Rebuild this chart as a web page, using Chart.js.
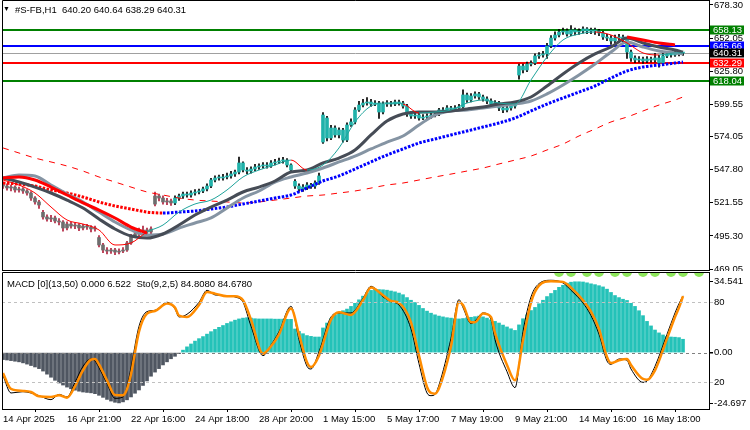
<!DOCTYPE html>
<html>
<head>
<meta charset="utf-8">
<title>#S-FB,H1</title>
<script src="https://cdn.jsdelivr.net/npm/chart.js@4.4.1/dist/chart.umd.min.js"></script>
<style>
  html, body { margin: 0; padding: 0; background: #fff; }
  #wrap { position: relative; width: 750px; height: 430px; overflow: hidden;
          font-family: "Liberation Sans", Arial, sans-serif; }
  #priceBox { position: absolute; left: 0; top: 0; width: 750px; height: 271px; }
  #oscBox { position: absolute; left: 0; top: 272px; width: 750px; height: 158px; }
  .caption { position: absolute; font-size: 9.5px; line-height: 12px; color: #000; white-space: pre; }
</style>
</head>
<body>
<div id="wrap">
  <div id="priceBox"><canvas id="priceChart"></canvas></div>
  <div id="oscBox"><canvas id="oscChart"></canvas></div>
  <div class="caption" style="left:3px;top:3px;font-size:7px;">▼</div>
  <div class="caption" style="left:15px;top:4px;">#S-FB,H1  640.20 640.64 638.29 640.31</div>
  <div class="caption" style="left:7px;top:278px;">MACD [0](13,50) 0.000 6.522  Sto(9,2,5) 84.8080 84.6780</div>
</div>
<script>
// H1 bars, one per hour of trading, index 0 = first bar on screen
const opens = [
  536.0,534.8,533.3,534.0,531.7,532.5,530.9,529.3,525.3,522.2,
  514.0,510.3,508.7,509.5,507.1,506.3,501.6,504.7,503.1,503.9,
  501.6,503.1,502.3,500.8,494.0,488.1,484.1,483.3,484.1,482.5,
  483.3,484.1,489.7,495.2,496.8,499.2,500.0,498.4,520.5,526.9,
  525.3,522.2,523.0,521.4,525.3,526.9,528.5,527.7,529.3,530.1,
  530.9,532.5,534.8,539.6,541.2,541.2,542.0,542.8,544.4,545.9,
  553.1,547.5,546.7,548.3,549.9,550.7,551.5,550.7,553.1,553.9,
  554.7,555.4,551.5,538.5,534.8,532.5,534.0,535.6,534.8,537.2,
  569.7,588.7,572.9,580.8,575.3,579.2,571.3,583.2,585.6,595.1,
  599.0,600.6,601.4,599.8,600.6,593.5,599.8,600.6,599.8,601.4,
  600.6,598.2,591.9,590.3,591.1,588.7,589.5,590.3,591.1,591.9,
  595.1,594.3,596.7,595.9,596.7,597.5,607.0,603.0,606.2,607.8,
  605.4,603.8,602.2,599.8,600.6,596.7,595.1,596.7,599.0,622.8,
  629.9,626.8,631.5,632.3,637.9,638.7,639.5,645.8,652.1,654.5,
  656.9,657.7,655.3,658.5,656.9,657.7,659.3,657.7,658.5,657.7,
  656.1,652.9,652.1,649.8,652.1,652.9,651.3,641.0,636.3,634.7,
  635.5,633.9,635.5,634.7,636.3,632.3,637.9,639.5,638.7,640.3,
  640.20
];
const highs = [
  538.0,536.5,535.5,535.0,534.0,533.5,532.0,530.5,526.5,523.5,
  515.5,512.0,511.5,511.0,509.0,507.5,506.5,506.0,505.5,505.0,
  504.5,504.5,503.5,503.0,495.5,489.5,486.0,485.5,485.5,485.0,
  486.0,491.0,496.5,499.0,501.5,503.0,501.5,502.5,530.0,528.5,
  527.0,525.0,524.5,527.0,528.5,530.0,530.0,531.0,532.0,532.5,
  534.0,536.5,541.0,543.0,543.5,544.0,545.0,546.5,547.5,557.8,
  554.0,549.5,550.0,552.0,552.5,553.5,553.5,555.0,556.0,557.0,
  557.5,556.5,552.5,540.0,536.5,536.0,537.5,537.0,539.0,545.0,
  593.0,590.0,583.0,582.5,581.0,580.5,585.0,588.0,597.0,602.0,
  603.5,605.0,603.5,602.5,602.0,601.5,602.5,602.0,603.0,603.0,
  602.0,599.5,593.5,593.0,592.5,591.5,592.0,593.0,594.0,596.5,
  597.0,598.5,598.0,598.5,599.5,611.0,608.5,608.0,609.5,609.0,
  607.0,605.5,604.0,602.5,602.0,598.0,598.5,601.0,601.0,631.5,
  631.5,633.0,634.0,639.5,640.5,641.5,648.0,654.0,657.0,659.0,
  660.0,659.5,662.0,660.0,659.5,661.0,660.5,660.0,660.0,659.0,
  657.5,655.0,654.0,654.5,655.0,654.5,652.0,642.5,638.0,637.5,
  637.0,637.5,637.0,640.0,638.5,640.0,641.5,641.0,642.0,641.5,
  640.64
];
const lows = [
  533.0,531.5,531.0,530.0,530.0,529.0,527.5,523.5,520.5,517.0,
  508.5,507.0,506.5,505.5,504.0,499.0,500.0,501.5,501.0,499.5,
  500.0,500.5,498.5,499.0,486.5,482.0,481.0,481.5,480.5,481.0,
  482.0,483.0,488.5,494.0,495.5,497.5,496.5,497.0,519.0,523.0,
  520.5,520.0,519.5,520.0,523.5,525.0,526.0,526.0,527.5,528.5,
  529.5,531.0,533.5,538.0,539.5,539.5,540.5,541.0,542.5,544.5,
  546.0,544.5,545.0,547.0,548.0,549.0,549.0,549.5,551.5,552.5,
  553.0,550.0,546.0,533.0,530.5,530.5,532.0,533.0,533.0,536.0,
  568.5,570.5,571.5,573.5,573.0,569.5,570.0,582.0,584.0,594.0,
  597.5,599.0,598.0,598.5,588.5,592.0,598.0,598.0,598.5,599.0,
  596.5,590.0,588.5,588.5,587.0,587.5,588.0,588.5,589.5,590.5,
  592.5,593.0,594.5,594.0,595.0,596.5,601.0,601.5,604.5,603.5,
  602.0,600.0,598.0,598.0,594.5,593.0,593.5,595.0,596.5,619.5,
  624.5,625.5,630.0,631.0,636.0,637.0,636.0,644.5,650.5,653.0,
  655.0,653.5,654.0,654.5,655.0,656.0,655.5,655.5,655.0,654.0,
  651.0,650.0,647.0,648.0,650.5,649.0,636.0,633.5,632.5,633.0,
  632.0,632.5,633.0,633.0,629.0,631.0,636.5,637.0,637.5,638.0,
  638.29
];
const closes = [
  534.8,533.3,534.0,531.7,532.5,530.9,529.3,525.3,522.2,519.8,
  510.3,508.7,509.5,507.1,506.3,501.6,504.7,503.1,503.9,501.6,
  503.1,502.3,500.8,501.6,488.1,484.1,483.3,484.1,482.5,483.3,
  484.1,489.7,495.2,496.8,499.2,500.0,498.4,500.8,526.9,525.3,
  522.2,523.0,521.4,525.3,526.9,528.5,527.7,529.3,530.1,530.9,
  532.5,534.8,539.6,541.2,541.2,542.0,542.8,544.4,545.9,553.1,
  547.5,546.7,548.3,549.9,550.7,551.5,550.7,553.1,553.9,554.7,
  555.4,551.5,547.5,534.8,532.5,534.0,535.6,534.8,537.2,542.8,
  591.1,572.9,580.8,575.3,579.2,571.3,583.2,585.6,595.1,599.0,
  600.6,601.4,599.8,600.6,593.5,599.8,600.6,599.8,601.4,600.6,
  598.2,591.9,590.3,591.1,588.7,589.5,590.3,591.1,591.9,595.1,
  594.3,596.7,595.9,596.7,597.5,607.0,603.0,606.2,607.8,605.4,
  603.8,602.2,599.8,600.6,596.7,595.1,596.7,599.0,598.2,629.9,
  626.8,631.5,632.3,637.9,638.7,639.5,645.8,652.1,654.5,656.9,
  657.7,655.3,658.5,656.9,657.7,659.3,657.7,658.5,657.7,656.1,
  652.9,652.1,649.8,652.1,652.9,651.3,641.0,636.3,634.7,635.5,
  633.9,635.5,634.7,636.3,632.3,637.9,639.5,638.7,640.3,639.5,
  640.31
];

// indicator lines, read every 4th bar
const sampleBars = [0,4,8,12,16,20,24,28,32,36,40,44,48,52,56,60,64,68,72,76,80,84,
  88,92,96,100,104,108,112,116,120,124,128,132,136,140,144,148,152,156,160,164,168,170];
const maDark = [541.2,538.0,534.0,529.3,523.7,517.4,508.7,500.8,495.2,493.6,496.8,503.9,
  511.9,518.2,523.7,530.1,534.0,538.8,545.9,547.5,553.1,557.0,563.4,575.3,586.4,591.9,
  593.5,593.5,594.3,595.9,597.5,599.8,601.4,605.4,614.1,623.6,632.3,639.5,645.0,652.1,
  648.2,645.0,642.6,641.0];
const maLight = [541.2,543.6,542.8,535.6,528.5,522.2,514.2,506.3,500.0,496.0,496.8,501.5,
  505.5,509.5,517.4,525.3,530.9,538.0,542.0,545.1,549.1,553.9,558.6,564.2,569.7,574.5,
  583.2,591.1,594.3,595.1,596.7,598.2,599.8,602.2,607.8,614.9,622.8,631.5,641.0,649.0,
  645.0,641.8,640.3,639.5];
const maFast = [539.6,535.6,529.3,518.2,507.9,504.7,500.0,488.1,489.7,498.4,503.9,514.2,
  520.6,523.7,531.7,542.0,547.5,551.5,555.4,547.5,551.5,565.0,585.6,598.2,600.6,599.8,
  592.7,593.5,595.1,600.6,603.0,600.6,599.8,618.9,637.1,650.6,655.3,656.9,654.5,648.2,
  640.3,638.7,640.3,640.3];
const maRed = [541.2,542.0,539.6,534.0,527.7,521.4,515.8,509.5,502.3,497.6,
  null,null,null,null,null,null,null,null,null,null,null,null,null,null,null,null,null,
  null,null,null,null,null,null,null,null,null,null,null,null,
  652.9,650.6,648.2,646.6,null];
const maDotted = [537.2,536.4,534.8,531.7,529.3,526.1,522.2,519.0,516.6,514.2,513.4,514.2,
  515.0,516.6,518.2,520.6,522.9,525.3,527.7,533.2,538.8,542.8,548.3,553.9,559.4,564.2,
  568.9,572.1,575.3,578.4,581.6,584.8,588.7,594.3,599.8,604.6,609.3,614.1,620.4,626.0,
  629.2,630.7,632.3,633.1];
const maDashed = [565.0,561.0,557.0,553.9,550.7,546.7,542.0,538.0,534.0,530.1,527.7,525.3,
  523.7,522.9,522.2,521.4,522.2,523.7,525.3,526.9,527.7,529.3,530.9,533.2,535.6,537.2,
  539.6,542.0,544.3,546.7,549.1,552.3,555.4,558.6,563.4,568.1,574.5,580.0,585.6,589.5,
  594.3,599.0,603.0,605.4];

// MACD histogram, one value per bar
const macdHist = [
  -3.4,-3.6,-3.9,-4.2,-4.5,-5.0,-5.6,-6.3,-7.0,-7.8,
  -9.0,-10.5,-12.0,-13.5,-14.8,-15.8,-16.8,-17.6,-18.3,-18.8,
  -19.2,-19.4,-19.6,-20.0,-20.8,-21.8,-22.8,-23.6,-24.2,-24.5,
  -24.0,-23.0,-21.6,-19.8,-18.2,-16.0,-13.8,-11.5,-9.5,-7.8,
  -6.0,-4.5,-3.0,-1.8,-0.5,1.2,2.8,4.2,5.6,6.8,
  7.8,9.0,10.2,11.3,12.3,13.2,14.2,15.0,15.8,16.4,
  16.8,17.0,16.8,16.5,16.4,16.4,16.4,16.4,16.3,16.3,
  16.3,16.2,16.2,11.5,10.3,9.2,8.3,7.9,7.6,7.6,
  12.0,14.4,16.5,18.4,19.6,20.4,21.2,22.5,24.0,25.7,
  27.5,29.2,30.3,30.9,30.7,30.6,30.4,30.0,29.6,29.0,
  28.2,26.8,25.5,24.4,23.0,21.5,20.2,19.2,18.4,17.8,
  17.4,17.0,16.8,16.5,16.4,16.6,16.9,17.2,17.5,17.8,
  17.4,16.8,16.0,15.2,14.4,13.4,12.5,11.6,10.8,13.5,
  16.5,18.4,20.5,22.0,23.8,25.5,27.3,28.8,30.3,31.8,
  32.8,33.8,34.3,34.5,34.5,34.4,34.0,33.5,33.1,32.6,
  32.0,30.9,29.3,27.8,26.8,26.0,25.4,24.0,22.5,20.4,
  18.0,15.2,13.0,11.0,9.6,8.6,7.9,7.6,7.5,7.3,
  6.5
];

// Stochastic (9,2,5), read at turning points
const stoBars = [0,2,5,7,9,12,14,16,18,20,22,23,24,26,28,30,31,32,34,36,38,41,43,44,46,49,
  51,53,56,58,60,62,65,67,69,72,74,76,77,79,82,84,87,90,92,95,97,99,102,104,106,107,108,
  109,112,114,115,117,118,120,122,123,126,128,130,132,134,137,140,142,145,147,149,151,152,
  154,156,157,160,161,163,166,168,169,170];
const stoMain = [25,12,13,12,10,7,11,9,20,32,37.5,36,31,19,8,9,17,31,62,73,74,80,75,69,71,80,
  89,85.5,85,84,80,62,40,48,58,77,52,32,30,43,69,72,72,83,92,84,80.5,78,60,34,12,10,11,
  18,53,82,76,64,66,72,67,52,28,16,58,84,94,96.5,94.5,89,79.5,70,56,36,33.5,
  37.5,36.5,30,20,21,32,56,72,79,84.81];
const stoSignal = [27,15,13.5,12.7,9.5,9,10.3,8.5,17,29,37,37.5,33.5,21.5,10.5,10.3,15,26,58,71.5,
  73.5,79,76,70,69,78,87.7,86.5,84.5,84.5,81.5,67,41.5,47,56,75.3,56,35,31.5,40,67,72.5,
  70.5,81.5,91,85.3,81,79.5,65,40,16.5,12,11.5,15.5,47,80,78,65,65,71.5,69,57,33,21.5,
  51.5,80,92.5,95.8,95.3,91,81.5,73,60,39,34.5,36.5,37.5,33,22.5,22,29,52.8,69,76,84.68];
// marks clipped at the top edge of the oscillator window
const topMarkBars = [139, 142, 146, 149, 153, 156, 160, 163, 167, 170, 174];
const topMarkLevel = 102.7;

const priceTicks = [678.30, 652.05, 625.80, 599.55, 574.05, 547.80, 521.55, 495.30, 469.05];
const levelPrices = [658.13, 645.66, 640.31, 632.29, 618.04];
const timeBars = [0, 16, 32, 48, 64, 80, 96, 112, 128, 144, 160];
const timeLabels = ['14 Apr 2025', '16 Apr 21:00', '22 Apr 16:00', '24 Apr 18:00', '28 Apr 20:00',
  '1 May 15:00', '5 May 17:00', '7 May 19:00', '9 May 21:00', '14 May 16:00', '16 May 18:00'];
const macdTicks = [34.541, 0, -24.697];
const stoLevels = [80, 20];

const FONT = '"Liberation Sans", Arial, sans-serif';
Chart.defaults.font.family = FONT;
Chart.defaults.font.size = 9.5;
Chart.defaults.color = '#000';
Chart.defaults.animation = false;

const X_MIN = -0.25, X_MAX = 176.5;
const TEAL = '#20B2AA', GREY_BODY = '#6E6E6E', WICK_DOWN = '#B0203C';
const levelColors = ['#008000', '#0000FF', '#A0A0A0', '#FF0000', '#008000'];
const levelBoxes = ['#008000', '#0000FF', '#000000', '#FF0000', '#008000'];
const levelWidths = [2, 2, 1, 2, 2];
const fastRedSpans = [[0, 36], [72, 76], [100, 104], [148, 164]];

function inSpans(bar, spans) {
  return spans.some(([a, b]) => bar >= a && bar < b);
}
function sampled(values) {
  return sampleBars.map((b, k) => ({ x: b, y: values[k] }));
}
// keep the plot area flush with the canvas edges
function noPad(s) {
  s.paddingTop = 0; s.paddingBottom = 0; s.paddingLeft = 0; s.paddingRight = 0;
}

const lineBase = { type: 'line', pointRadius: 0, cubicInterpolationMode: 'monotone', fill: false };

const priceDecor = {
  id: 'priceDecor',
  beforeDatasetsDraw(chart) {
    const { ctx, chartArea: a, scales: { y } } = chart;
    ctx.save();
    levelPrices.forEach((p, k) => {
      const py = Math.round(y.getPixelForValue(p)) + (levelWidths[k] === 1 ? 0.5 : 0);
      ctx.strokeStyle = levelColors[k];
      ctx.lineWidth = levelWidths[k];
      ctx.beginPath();
      ctx.moveTo(a.left, py);
      ctx.lineTo(a.right, py);
      ctx.stroke();
    });
    ctx.restore();
  },
  afterDraw(chart) {
    const { ctx, chartArea: a, scales: { y } } = chart;
    ctx.save();
    ctx.strokeStyle = '#000';
    ctx.lineWidth = 1;
    ctx.beginPath();
    ctx.moveTo(a.left + 0.5, a.bottom);
    ctx.lineTo(a.left + 0.5, a.top + 0.5);
    ctx.lineTo(a.right, a.top + 0.5);
    ctx.moveTo(a.left, a.bottom + 0.5);
    ctx.lineTo(a.right, a.bottom + 0.5);
    ctx.stroke();
    ctx.font = '9.5px ' + FONT;
    ctx.textBaseline = 'middle';
    levelPrices.forEach((p, k) => {
      const py = Math.round(y.getPixelForValue(p));
      ctx.fillStyle = levelBoxes[k];
      ctx.fillRect(a.right + 1, py - 4.5, 34, 9);
      ctx.fillStyle = '#fff';
      ctx.fillText(p.toFixed(2), a.right + 4, py + 0.5);
    });
    ctx.restore();
  }
};

const oscDecor = {
  id: 'oscDecor',
  afterDatasetsDraw(chart) {
    const { ctx, chartArea: a, scales } = chart;
    ctx.save();
    ctx.lineWidth = 1;
    ctx.setLineDash([3, 3]);
    stoLevels.forEach((v) => {
      const py = Math.round(scales.sto.getPixelForValue(v)) + 0.5;
      ctx.strokeStyle = '#C0C0C0';
      ctx.beginPath(); ctx.moveTo(a.left, py); ctx.lineTo(a.right + 4, py); ctx.stroke();
    });
    const zy = Math.round(scales.macd.getPixelForValue(0)) + 0.5;
    ctx.strokeStyle = '#808080';
    ctx.beginPath(); ctx.moveTo(a.left, zy); ctx.lineTo(a.right + 4, zy); ctx.stroke();
    ctx.restore();
  },
  afterDraw(chart) {
    const { ctx, chartArea: a, scales } = chart;
    ctx.save();
    ctx.strokeStyle = '#000';
    ctx.lineWidth = 1;
    ctx.beginPath();
    ctx.moveTo(a.left + 0.5, a.bottom);
    ctx.lineTo(a.left + 0.5, a.top + 0.5);
    ctx.lineTo(a.right, a.top + 0.5);
    ctx.stroke();
    ctx.font = '9.5px ' + FONT;
    ctx.textBaseline = 'middle';
    ctx.fillStyle = '#000';
    stoLevels.forEach((v) => {
      ctx.fillText(String(v), a.right + 5, scales.sto.getPixelForValue(v));
    });
    ctx.restore();
  }
};

new Chart(document.getElementById('priceChart'), {
  type: 'bar',
  data: {
    datasets: [
      {
        label: 'wicks',
        data: highs.map((h, i) => ({ x: i, y: [lows[i], h] })),
        backgroundColor: (c) => (c.dataIndex < 43 ? WICK_DOWN : '#000'),
        barThickness: 1, grouped: false, order: 20
      },
      {
        label: 'bodies',
        data: opens.map((o, i) => ({ x: i, y: [o, closes[i]] })),
        backgroundColor: (c) => (c.dataIndex < 43 ? GREY_BODY : TEAL),
        barThickness: 3, minBarLength: 1, grouped: false, order: 19
      },
      { ...lineBase, label: 'MA long', data: sampled(maDashed), borderColor: '#FF0000',
        borderWidth: 1, borderDash: [6, 6], order: 8 },
      { ...lineBase, label: 'MA dotted', data: sampled(maDotted), borderWidth: 3,
        borderDash: [2.5, 1.5], borderCapStyle: 'butt', borderColor: '#0000FF',
        segment: { borderColor: (c) => (sampleBars[c.p0DataIndex] < 37 ? '#FF0000' : '#0000FF') },
        order: 7 },
      { ...lineBase, label: 'MA light', data: sampled(maLight), borderColor: '#8594A3',
        borderWidth: 3, order: 6 },
      { ...lineBase, label: 'MA dark', data: sampled(maDark), borderColor: '#464C56',
        borderWidth: 3, order: 5 },
      { ...lineBase, label: 'MA red', data: sampled(maRed), borderColor: '#FF0000',
        borderWidth: 3, spanGaps: false, order: 4 },
      { ...lineBase, label: 'MA fast', data: sampled(maFast), borderWidth: 1, borderColor: '#1FA39B',
        segment: { borderColor: (c) => (inSpans(sampleBars[c.p0DataIndex], fastRedSpans) ? '#FF0000' : '#1FA39B') },
        order: 3 }
    ]
  },
  options: {
    responsive: true,
    maintainAspectRatio: false,
    events: [],
    layout: { padding: { left: 2, right: 0, top: 0, bottom: 1 }, autoPadding: false },
    plugins: { legend: { display: false }, tooltip: { enabled: false } },
    scales: {
      x: { type: 'linear', min: X_MIN, max: X_MAX, offset: false, display: false },
      y: {
        position: 'right', min: 468.27, max: 682.26,
        afterBuildTicks: (s) => { s.ticks = priceTicks.map((v) => ({ value: v })); },
        afterFit: (s) => { s.width = 41; noPad(s); },
        ticks: { autoSkip: false, padding: 1, crossAlign: 'near', callback: (v) => v.toFixed(2) },
        grid: { drawOnChartArea: false, drawTicks: true, tickLength: 4, color: '#000' },
        border: { display: true, color: '#000' }
      }
    }
  },
  plugins: [priceDecor]
});

new Chart(document.getElementById('oscChart'), {
  type: 'bar',
  data: {
    datasets: [
      {
        label: 'MACD',
        data: macdHist.map((v, i) => ({ x: i, y: v })),
        yAxisID: 'macd',
        backgroundColor: (c) => (c.raw && c.raw.y >= 0 ? '#24C2B8' : '#4F5661'),
        barThickness: (c) => (c.dataIndex < 21 ? 4 : 3), grouped: false, order: 10
      },
      { ...lineBase, label: 'Sto main', data: stoBars.map((b, k) => ({ x: b, y: stoMain[k] })),
        yAxisID: 'sto', borderColor: '#000', borderWidth: 1, order: 2 },
      { ...lineBase, label: 'Sto signal', data: stoBars.map((b, k) => ({ x: b, y: stoSignal[k] })),
        yAxisID: 'sto', borderColor: '#FF8C00', borderWidth: 2.5, order: 1 },
      { type: 'scatter', label: 'top marks', data: topMarkBars.map((b) => ({ x: b, y: topMarkLevel })),
        yAxisID: 'sto', pointRadius: 5, pointBackgroundColor: '#8EE65C', pointBorderWidth: 0,
        clip: 0, order: 0 }
    ]
  },
  options: {
    responsive: true,
    maintainAspectRatio: false,
    events: [],
    layout: { padding: { left: 2, right: 0, top: 0, bottom: 0 }, autoPadding: false },
    plugins: { legend: { display: false }, tooltip: { enabled: false } },
    scales: {
      x: {
        type: 'linear', min: X_MIN, max: X_MAX, offset: false, position: 'bottom',
        afterBuildTicks: (s) => { s.ticks = timeBars.map((v) => ({ value: v })); },
        afterFit: (s) => { s.height = 21; noPad(s); },
        ticks: {
          autoSkip: false, maxRotation: 0, minRotation: 0, align: 'start', padding: 2,
          callback: (v) => timeLabels[timeBars.indexOf(v)]
        },
        grid: { drawOnChartArea: false, drawTicks: true, tickLength: 3, color: '#000' },
        border: { display: true, color: '#000' }
      },
      macd: {
        position: 'right', min: -27.47, max: 39.26,
        afterBuildTicks: (s) => { s.ticks = macdTicks.map((v) => ({ value: v })); },
        afterFit: (s) => { s.width = 41; noPad(s); },
        ticks: { autoSkip: false, padding: 1, crossAlign: 'near',
          callback: (v) => (v === 0 ? '0.00' : String(v)) },
        grid: { drawOnChartArea: false, drawTicks: true, tickLength: 4, color: '#000' },
        border: { display: true, color: '#000' }
      },
      sto: { position: 'right', min: 0, max: 102.7, display: false }
    }
  },
  plugins: [oscDecor]
});
</script>
</body>
</html>
